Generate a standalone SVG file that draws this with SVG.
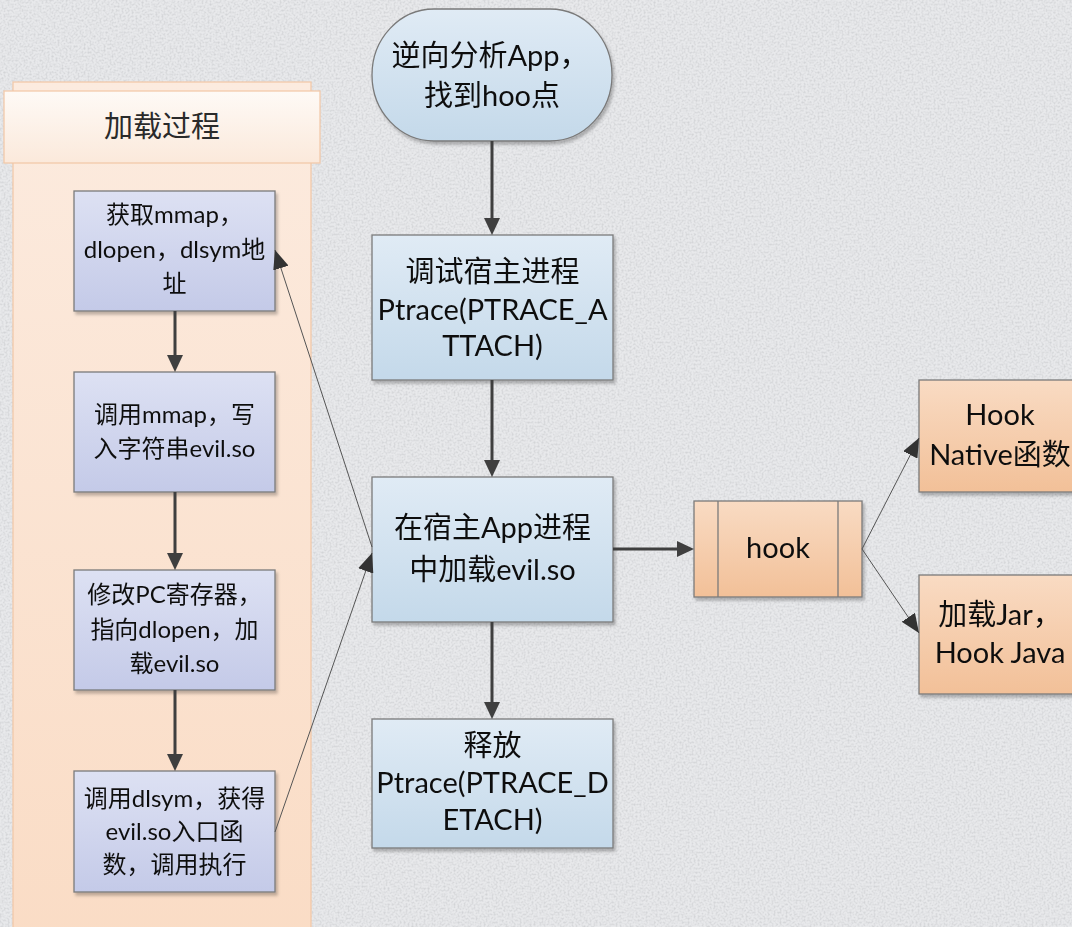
<svg xmlns="http://www.w3.org/2000/svg" width="1072" height="927" viewBox="0 0 1072 927">
  <defs>
    <style>
      .t { font-family: Lato, "Noto Sans CJK SC", sans-serif; fill: #111; text-anchor: middle; }
      .big { font-size: 29px; }
      .small { font-size: 24px; }
      .hdr { font-family: "Noto Sans CJK SC", sans-serif; font-size: 29px; fill: #2a2a2a; text-anchor: middle; font-weight: 400; }
      .box { stroke: #7a7a7a; stroke-width: 1.3; }
      .lav { fill: url(#gLav); }
      .blue { fill: url(#gBlue); }
      .peach { fill: url(#gPeach); }
      .thick { stroke: #3f3f3f; stroke-width: 3; fill: none; marker-end: url(#headThick); }
      .thin { stroke: #555; stroke-width: 1; fill: none; marker-end: url(#headThin); }
    </style>
    <linearGradient id="gLav" x1="0" y1="0" x2="0" y2="1">
      <stop offset="0" stop-color="#dde1f3"/>
      <stop offset="1" stop-color="#c4cae8"/>
    </linearGradient>
    <linearGradient id="gBlue" x1="0" y1="0" x2="0" y2="1">
      <stop offset="0" stop-color="#e0ebf5"/>
      <stop offset="1" stop-color="#c4d9ea"/>
    </linearGradient>
    <linearGradient id="gPeach" x1="0" y1="0" x2="0" y2="1">
      <stop offset="0" stop-color="#f9dbc3"/>
      <stop offset="1" stop-color="#f2c098"/>
    </linearGradient>
    <linearGradient id="gLane" x1="0" y1="0" x2="0" y2="1">
      <stop offset="0" stop-color="#fcebdf"/>
      <stop offset="1" stop-color="#fadcc5"/>
    </linearGradient>
    <linearGradient id="gHead" x1="0" y1="0" x2="0" y2="1">
      <stop offset="0" stop-color="#fefaf6"/>
      <stop offset="1" stop-color="#fbe9db"/>
    </linearGradient>
    <filter id="shadow" x="-10%" y="-10%" width="125%" height="130%">
      <feDropShadow dx="2" dy="3" stdDeviation="1.5" flood-color="#000" flood-opacity="0.25"/>
    </filter>
    <filter id="paper" x="0" y="0" width="100%" height="100%">
      <feTurbulence type="fractalNoise" baseFrequency="0.5" numOctaves="3" seed="7"/>
      <feColorMatrix type="matrix" values="0 0 0 0 0.5  0 0 0 0 0.51  0 0 0 0 0.53  0 0 0 -2 1.2"/>
    </filter>
    <marker id="headThick" markerUnits="userSpaceOnUse" markerWidth="20" markerHeight="18" refX="2" refY="9" orient="auto">
      <path d="M0,1 L17,9 L0,17 z" fill="#3f3f3f"/>
    </marker>
    <marker id="headThin" markerUnits="userSpaceOnUse" markerWidth="20" markerHeight="16" refX="19" refY="8" orient="auto">
      <path d="M0,0 L19,8 L0,16 z" fill="#333"/>
    </marker>
  </defs>

  <!-- textured paper background -->
  <rect x="0" y="0" width="1072" height="927" fill="#e8e9eb"/>
  <rect x="0" y="0" width="1072" height="927" filter="url(#paper)" opacity="0.55"/>

  <!-- swimlane: loading process -->
  <g id="lane">
    <rect x="13" y="82" width="298" height="870" fill="url(#gLane)" stroke="#f2c7a6" stroke-width="1.2"/>
    <rect x="4" y="91" width="316" height="72" fill="url(#gHead)" stroke="#f2c7a6" stroke-width="1.2"/>
    <text class="hdr" x="162" y="137">加载过程</text>
  </g>

  <!-- left column steps -->
  <g id="step-addr" filter="url(#shadow)">
    <rect class="box lav" x="74" y="191" width="201" height="120"/>
    <text class="t small" x="174.5" y="223">获取mmap，</text>
    <text class="t small" x="174.5" y="258">dlopen，dlsym地</text>
    <text class="t small" x="174.5" y="292">址</text>
  </g>
  <g id="step-mmap" filter="url(#shadow)">
    <rect class="box lav" x="74" y="372" width="201" height="120"/>
    <text class="t small" x="174.5" y="423">调用mmap，写</text>
    <text class="t small" x="174.5" y="457">入字符串evil.so</text>
  </g>
  <g id="step-pc" filter="url(#shadow)">
    <rect class="box lav" x="74" y="570" width="201" height="120"/>
    <text class="t small" x="174.5" y="603">修改PC寄存器，</text>
    <text class="t small" x="174.5" y="638">指向dlopen，加</text>
    <text class="t small" x="174.5" y="672">载evil.so</text>
  </g>
  <g id="step-dlsym" filter="url(#shadow)">
    <rect class="box lav" x="74" y="771" width="201" height="121"/>
    <text class="t small" x="174.5" y="807">调用dlsym，获得</text>
    <text class="t small" x="174.5" y="840">evil.so入口函</text>
    <text class="t small" x="174.5" y="873">数，调用执行</text>
  </g>

  <!-- main column -->
  <g id="start" filter="url(#shadow)">
    <rect class="box blue" x="372" y="9" width="240" height="132" rx="62" ry="66"/>
    <text class="t big" x="490" y="66">逆向分析App，</text>
    <text class="t big" x="492" y="106">找到hoo点</text>
  </g>
  <g id="attach" filter="url(#shadow)">
    <rect class="box blue" x="372" y="235" width="241" height="145"/>
    <text class="t big" x="492.5" y="282">调试宿主进程</text>
    <text class="t big" x="492.5" y="320">Ptrace(PTRACE_A</text>
    <text class="t big" x="492.5" y="356">TTACH)</text>
  </g>
  <g id="inject" filter="url(#shadow)">
    <rect class="box blue" x="372" y="477" width="241" height="145"/>
    <text class="t big" x="492.5" y="538">在宿主App进程</text>
    <text class="t big" x="492.5" y="580">中加载evil.so</text>
  </g>
  <g id="detach" filter="url(#shadow)">
    <rect class="box blue" x="372" y="719" width="241" height="129"/>
    <text class="t big" x="492.5" y="756">释放</text>
    <text class="t big" x="492.5" y="793">Ptrace(PTRACE_D</text>
    <text class="t big" x="492.5" y="830">ETACH)</text>
  </g>

  <!-- hook branch -->
  <g id="hook" filter="url(#shadow)">
    <rect class="box peach" x="694" y="501" width="168" height="96"/>
    <line x1="718" y1="501" x2="718" y2="597" stroke="#7a7a7a" stroke-width="1.3"/>
    <line x1="838" y1="501" x2="838" y2="597" stroke="#7a7a7a" stroke-width="1.3"/>
    <text class="t big" x="778" y="558">hook</text>
  </g>
  <g id="hook-native" filter="url(#shadow)">
    <rect class="box peach" x="919" y="380" width="164" height="112"/>
    <text class="t big" x="1000" y="425">Hook</text>
    <text class="t big" x="1000" y="465">Native函数</text>
  </g>
  <g id="hook-java" filter="url(#shadow)">
    <rect class="box peach" x="919" y="575" width="164" height="119"/>
    <text class="t big" x="1000" y="625">加载Jar，</text>
    <text class="t big" x="1000" y="663">Hook Java</text>
  </g>

  <!-- connectors -->
  <g id="connectors">
    <line class="thick" x1="492" y1="141" x2="492" y2="220"/>
    <line class="thick" x1="492" y1="380" x2="492" y2="462"/>
    <line class="thick" x1="492" y1="622" x2="492" y2="704"/>
    <line class="thick" x1="613" y1="549" x2="679" y2="549"/>
    <line class="thick" x1="175" y1="311" x2="175" y2="357"/>
    <line class="thick" x1="175" y1="492" x2="175" y2="555"/>
    <line class="thick" x1="175" y1="690" x2="175" y2="756"/>
    <line class="thin" x1="372" y1="547" x2="275" y2="250"/>
    <line class="thin" x1="275" y1="832" x2="372" y2="553"/>
    <line class="thin" x1="862" y1="549" x2="919" y2="438"/>
    <line class="thin" x1="862" y1="549" x2="919" y2="633"/>
  </g>
</svg>
